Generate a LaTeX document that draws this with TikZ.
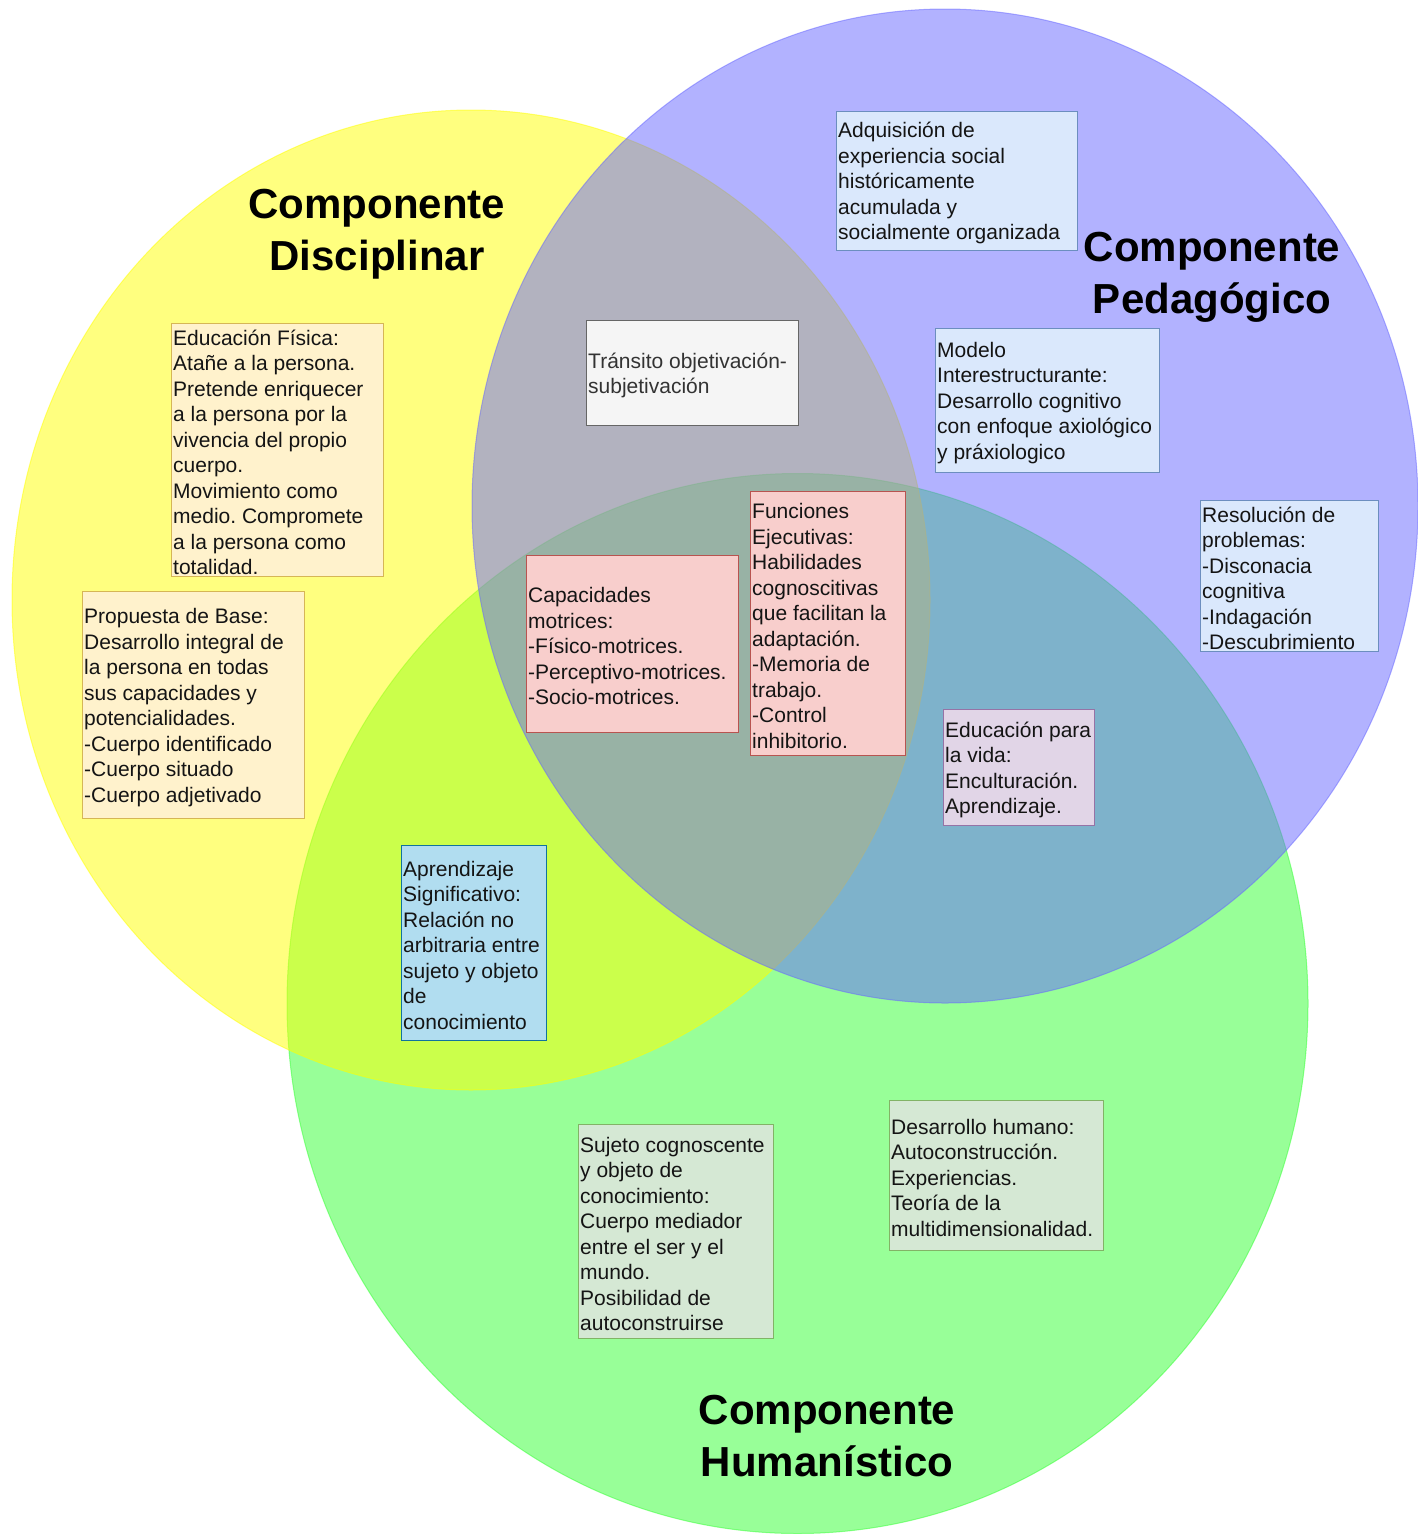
\documentclass[tikz,border=0pt]{standalone}
\usepackage{fontspec}
\setmainfont{Liberation Sans}
\frenchspacing
\begin{document}
\begin{tikzpicture}[x=1pt,y=-1pt,
  setfill/.style={fill=#1, draw=#1, fill opacity=0.5, draw opacity=0.5, line width=1pt},
  box/.style={draw, line width=0.8pt, inner sep=0pt, anchor=north west},
  bluebox/.style={box, fill=boxblue, draw=edgeblue},
  graybox/.style={box, fill=boxgray, draw=edgegray},
  yelbox/.style={box, fill=boxyel, draw=edgeyel},
  redbox/.style={box, fill=boxred, draw=edgered},
  purbox/.style={box, fill=boxpur, draw=edgepur},
  cyanbox/.style={box, fill=boxcyan, draw=edgecyan},
  grnbox/.style={box, fill=boxgrn, draw=edgegrn},
  txt/.style={font=\fontsize{21}{25.5}\selectfont, align=left, inner sep=0pt, anchor=west, yshift=-2.5pt, text=black!92},
  title/.style={font=\fontsize{42}{52}\selectfont\bfseries, align=center, inner sep=0pt, text=black}
]
\definecolor{setyel}{HTML}{FFFF00}
\definecolor{setpur}{HTML}{6666FF}
\definecolor{setgrn}{HTML}{33FF33}
\definecolor{boxblue}{HTML}{DAE8FC}\definecolor{edgeblue}{HTML}{6C8EBF}
\definecolor{boxgray}{HTML}{F5F5F5}\definecolor{edgegray}{HTML}{666666}
\definecolor{boxyel}{HTML}{FFF2CC}\definecolor{edgeyel}{HTML}{D6B656}
\definecolor{boxred}{HTML}{F8CECC}\definecolor{edgered}{HTML}{B85450}
\definecolor{boxpur}{HTML}{E1D5E7}\definecolor{edgepur}{HTML}{9673A6}
\definecolor{boxcyan}{HTML}{B1DDF0}\definecolor{edgecyan}{HTML}{10739E}
\definecolor{boxgrn}{HTML}{D5E8D4}\definecolor{edgegrn}{HTML}{82B366}

\useasboundingbox (0,0) rectangle (1418,1534);
\fill[white] (0,0) rectangle (1418,1534);

% the three sets, drawn bottom to top
\filldraw[setfill=setgrn] (797.5,1003.5) ellipse [x radius=510.5pt, y radius=530pt];
\filldraw[setfill=setyel] (471,600) ellipse [x radius=459pt, y radius=490pt];
\filldraw[setfill=setpur] (945,506) ellipse [x radius=473pt, y radius=497pt];

% set titles
\node[title] (tdis) at (377,234) {Componente\\Disciplinar};
\node[title] (tped) at (1212,277) {Componente\\Pedagógico};
\node[title] (thum) at (827,1436) {Componente\\Humanístico};

% Pedagógico
\node[bluebox, minimum width=241pt, minimum height=139pt] (adq) at (836,111) {};
\node[txt] (adqT) at ([xshift=2pt]adq.west) {Adquisición de\\experiencia social\\históricamente\\acumulada y\\socialmente organizada};

\node[bluebox, minimum width=224pt, minimum height=144pt] (mod) at (935,328) {};
\node[txt] (modT) at ([xshift=2pt]mod.west) {Modelo\\Interestructurante:\\Desarrollo cognitivo\\con enfoque axiológico\\y práxiologico};

\node[bluebox, minimum width=178pt, minimum height=151pt] (res) at (1200,500) {};
\node[txt] (resT) at ([xshift=2pt]res.west) {Resolución de\\problemas:\\-Disconacia\\cognitiva\\-Indagación\\-Descubrimiento};

% Disciplinar / Pedagógico
\node[graybox, minimum width=212pt, minimum height=105pt] (tra) at (586,320) {};
\node[txt, text=edgegray!50!black] (traT) at ([xshift=2pt]tra.west) {Tránsito objetivación-\\subjetivación};

% Disciplinar
\node[yelbox, minimum width=212pt, minimum height=253pt] (edf) at (171,323) {};
\node[txt] (edfT) at ([xshift=2pt]edf.west) {Educación Física:\\Atañe a la persona.\\Pretende enriquecer\\a la persona por la\\vivencia del propio\\cuerpo.\\Movimiento como\\medio. Compromete\\a la persona como\\totalidad.};

\node[yelbox, minimum width=222pt, minimum height=227pt] (pro) at (82,591) {};
\node[txt] (proT) at ([xshift=2pt]pro.west) {Propuesta de Base:\\Desarrollo integral de\\la persona en todas\\sus capacidades y\\potencialidades.\\-Cuerpo identificado\\-Cuerpo situado\\-Cuerpo adjetivado};

% centre of the three sets
\node[redbox, minimum width=212pt, minimum height=177pt] (cap) at (526,555) {};
\node[txt] (capT) at ([xshift=2pt]cap.west) {Capacidades\\motrices:\\-Físico-motrices.\\-Perceptivo-motrices.\\-Socio-motrices.};

\node[redbox, minimum width=155pt, minimum height=264pt] (fun) at (750,491) {};
\node[txt] (funT) at ([xshift=2pt]fun.west) {Funciones\\Ejecutivas:\\Habilidades\\cognoscitivas\\que facilitan la\\adaptación.\\-Memoria de\\trabajo.\\-Control\\inhibitorio.};

% Pedagógico / Humanístico
\node[purbox, minimum width=151pt, minimum height=116pt] (edv) at (943,709) {};
\node[txt] (edvT) at ([xshift=2pt]edv.west) {Educación para\\la vida:\\Enculturación.\\Aprendizaje.};

% Disciplinar / Humanístico
\node[cyanbox, minimum width=145pt, minimum height=195pt] (apr) at (401,845) {};
\node[txt] (aprT) at ([xshift=2pt]apr.west) {Aprendizaje\\Significativo:\\Relación no\\arbitraria entre\\sujeto y objeto\\de\\conocimiento};

% Humanístico
\node[grnbox, minimum width=195pt, minimum height=214pt] (suj) at (578,1124) {};
\node[txt] (sujT) at ([xshift=2pt]suj.west) {Sujeto cognoscente\\y objeto de\\conocimiento:\\Cuerpo mediador\\entre el ser y el\\mundo.\\Posibilidad de\\autoconstruirse};

\node[grnbox, minimum width=214pt, minimum height=150pt] (des) at (889,1100) {};
\node[txt] (desT) at ([xshift=2pt]des.west) {Desarrollo humano:\\Autoconstrucción.\\Experiencias.\\Teoría de la\\multidimensionalidad.};
\end{tikzpicture}
\end{document}
